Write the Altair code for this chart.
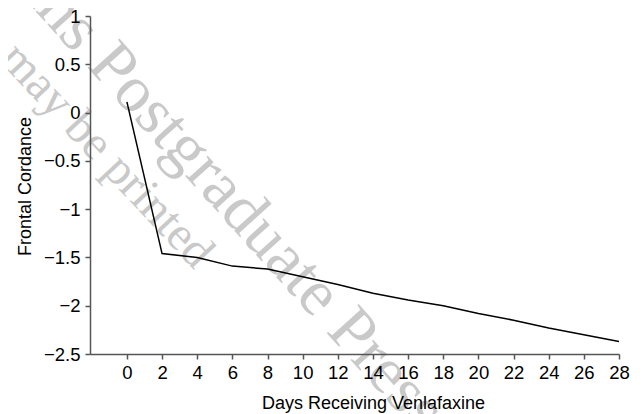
import altair as alt
import pandas as pd

days = [0, 2, 4, 6, 8, 10, 12, 14, 16, 18, 20, 22, 24, 26, 28]
cordance = [0.11, -1.46, -1.50, -1.59, -1.62, -1.70, -1.78, -1.87, -1.94, -2.00, -2.08, -2.15, -2.23, -2.30, -2.37]
x_ticks = list(range(0, 29, 2))
y_ticks = [-2.5, -2.0, -1.5, -1.0, -0.5, 0.0, 0.5, 1.0]

df = pd.DataFrame({"day": days, "cordance": cordance})

FONT = "Liberation Sans"
AX = "#555555"

x_enc = alt.X(
    "day:Q",
    scale=alt.Scale(domain=[-2.1, 28], nice=False, zero=False),
    axis=alt.Axis(
        values=x_ticks, title="Days Receiving Venlafaxine", grid=False,
        domainColor=AX, domainWidth=1.5, tickColor=AX, tickWidth=1.5, tickSize=5,
        labelFont=FONT, labelFontSize=18.5, labelColor="black", labelPadding=4,
        labelFlush=False,
        titleFont=FONT, titleFontSize=18, titleFontWeight="normal", titleColor="black",
        titleX=283, titleY=54, titleAlign="center", titleBaseline="alphabetic",
        labelOverlap=False, zindex=1,
    ),
)
y_enc = alt.Y(
    "cordance:Q",
    scale=alt.Scale(domain=[-2.5, 1], nice=False, zero=False),
    axis=alt.Axis(
        values=y_ticks, format="~g", title="Frontal Cordance", grid=False,
        domainColor=AX, domainWidth=1.5, tickColor=AX, tickWidth=1.5, tickSize=5,
        labelFont=FONT, labelFontSize=18.5, labelColor="black", labelPadding=5,
        labelFlush=False,
        titleFont=FONT, titleFontSize=18, titleFontWeight="normal", titleColor="black",
        titleX=-60, titleY=170, titleAlign="center", titleBaseline="alphabetic", titleAngle=270,
        labelOverlap=False, zindex=1,
    ),
)

wm_df = pd.DataFrame({"t": ["Postgraduate Press"]})
wm1 = alt.Chart(wm_df).mark_text(
    font="Liberation Serif", fontSize=66, color="#c9c9c9", angle=48,
    align="left", baseline="alphabetic",
).encode(x=alt.value(-4), y=alt.value(50), text="t:N")

wm0_df = pd.DataFrame({"t": ["Physicians"]})
wm0 = alt.Chart(wm0_df).mark_text(
    font="Liberation Serif", fontSize=66, color="#c9c9c9", angle=48,
    align="right", baseline="alphabetic",
).encode(x=alt.value(-16), y=alt.value(38), text="t:N")

wm2_df = pd.DataFrame({"t": ["may be printed"]})
wm2 = alt.Chart(wm2_df).mark_text(
    font="Liberation Serif", fontSize=48, color="#c9c9c9", angle=47,
    align="left", baseline="alphabetic",
).encode(x=alt.value(-92), y=alt.value(44), text="t:N")

line = alt.Chart(df).mark_line(color="black", strokeWidth=1.5).encode(x=x_enc, y=y_enc)

chart = alt.layer(wm0, wm1, wm2, line).properties(
    width=529, height=338,
    autosize=alt.AutoSizeParams(type="none"),
    padding={"left": 82, "top": 8, "right": 16, "bottom": 60},
).configure_view(stroke=None)

chart.save("out.html", embed_options={"renderer": "svg", "actions": False})
